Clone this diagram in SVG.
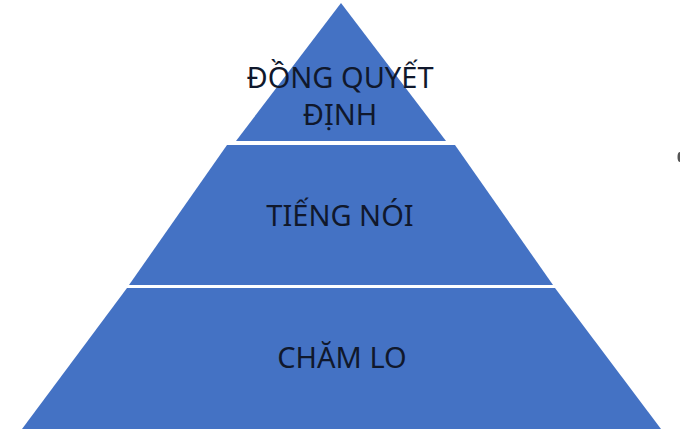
<svg xmlns="http://www.w3.org/2000/svg" width="680" height="431" viewBox="0 0 680 431">
<style>
.tier{fill:#4472C4;}
.lbl{font-family:"Noto Sans","Open Sans","Liberation Sans",sans-serif;font-size:29px;fill:#10182c;text-anchor:middle;}
</style>
<rect width="680" height="431" fill="#ffffff"/>
<g id="top">
<polygon class="tier" points="341,3 446,141 236,141"/>
<text class="lbl" x="340" y="88">ĐỒNG QUYẾT</text>
<text class="lbl" x="340" y="125">ĐỊNH</text>
</g>
<g id="middle">
<polygon class="tier" points="227,145 455,145 553,285 129,285"/>
<text class="lbl" x="340" y="226">TIẾNG NÓI</text>
</g>
<g id="bottom">
<polygon class="tier" points="127,288 555,288 661,429 22,429"/>
<text class="lbl" x="342" y="368">CHĂM LO</text>
</g>
<g id="connectors"></g>
<ellipse cx="680" cy="157" rx="2.5" ry="5" fill="#555"/>
</svg>
